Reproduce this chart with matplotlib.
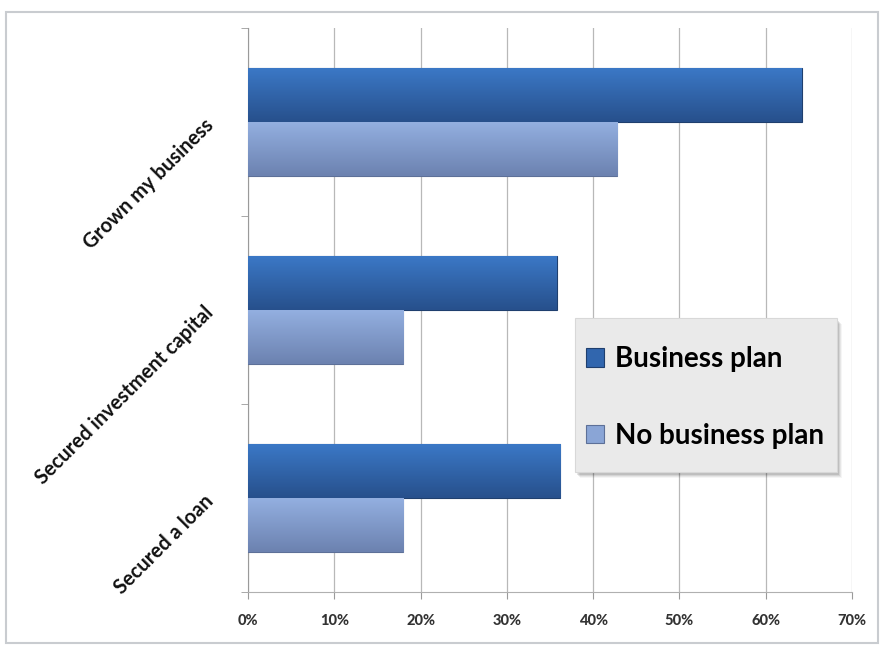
import matplotlib
matplotlib.use("Agg")
import matplotlib.pyplot as plt
import matplotlib.patches as mpatches
import numpy as np

categories = ["Secured a loan", "Secured investment capital", "Grown my business"]
business_plan = [36.2, 35.8, 64.2]
no_business_plan = [18.0, 18.0, 42.8]
x_ticks = [0, 10, 20, 30, 40, 50, 60, 70]

plt.rcParams['font.family'] = ['Lato', 'DejaVu Sans']

W, H = 882, 648
fig = plt.figure(figsize=(8.82, 6.48), dpi=100)
ax = fig.add_axes([0.2812, 0.0864, 0.6848, 0.8704])

# outer frame of the chart
frame = mpatches.Rectangle((6 / W, 1 - 643 / H), 872 / W, 631 / H,
                           transform=fig.transFigure, fill=False,
                           edgecolor='#c9ccd0', linewidth=1.5, zorder=0)
fig.patches.append(frame)

y = np.arange(len(categories))
h = 0.287
bars1 = ax.barh(y + h / 2, business_plan, height=h, color='#3166ae',
                edgecolor='#1f3f6e', linewidth=0.8, label='Business plan', zorder=3)
bars2 = ax.barh(y - h / 2, no_business_plan, height=h, color='#8aa5d6',
                edgecolor='#5d7098', linewidth=0.8, label='No business plan', zorder=3)

# vertical gradient inside each bar
def shade(bars, top, bottom):
    grad = np.linspace(0, 1, 64).reshape(-1, 1)
    c1 = np.array(matplotlib.colors.to_rgb(top))
    c2 = np.array(matplotlib.colors.to_rgb(bottom))
    img = c1[None, None, :] * (1 - grad[..., None]) + c2[None, None, :] * grad[..., None]
    for b in bars:
        x0, y0 = b.get_x(), b.get_y()
        w, hh = b.get_width(), b.get_height()
        im = ax.imshow(img, extent=[x0, x0 + w, y0, y0 + hh], origin='upper',
                       aspect='auto', zorder=3.5)
        im.set_clip_path(b)

shade(bars1, '#3b78c6', '#27508c')
shade(bars2, '#93afe0', '#6c82b0')

ax.set_xlim(0, 70)
ax.set_ylim(-0.5, 2.5)
ax.set_xticks(x_ticks)
ax.set_xticklabels([f"{t}%" for t in x_ticks], fontsize=10.5, fontweight='black', color='#333333')
ax.set_yticks(y)
ax.set_yticklabels(categories, rotation=45, ha='right', va='center',
                   rotation_mode='anchor', fontsize=14.5, fontweight='bold', color='#111111')
ax.set_yticks([-0.5, 0.5, 1.5, 2.5], minor=True)
ax.tick_params(axis='y', which='major', length=0, pad=27)
ax.tick_params(axis='y', which='minor', length=5, color='#9a9a9a', direction='out')
ax.tick_params(axis='x', length=5, color='#9a9a9a', pad=11)

ax.grid(axis='x', color='#b8b8b8', linewidth=0.9, zorder=0)
for s in ['top', 'right']:
    ax.spines[s].set_visible(False)
ax.spines['left'].set_color('#9a9a9a')
ax.spines['bottom'].set_color('#b0b0b0')

# legend box with soft shadow
box = mpatches.Rectangle((575 / W, 1 - 472 / H), 262 / W, 154 / H,
                         transform=fig.transFigure, facecolor='#eaeaea',
                         edgecolor='#d8d8d8', linewidth=0.8, zorder=5)
for k, a in enumerate([0.10, 0.08, 0.06, 0.04]):
    sh = mpatches.Rectangle(((577 + k) / W, 1 - (475 + k) / H), 262 / W, 154 / H,
                            transform=fig.transFigure, facecolor='black',
                            edgecolor='none', alpha=a, zorder=4.9)
    fig.patches.append(sh)
fig.patches.append(box)

leg = fig.legend(loc='upper left', bbox_to_anchor=(586 / W, 1 - 346 / H),
                 bbox_transform=fig.transFigure, borderaxespad=0, borderpad=0,
                 frameon=False, handlelength=0.65, handleheight=0.65,
                 handletextpad=0.4, labelspacing=1.82,
                 prop={'family': ['Lato', 'DejaVu Sans'], 'weight': 'bold', 'size': 20})
leg.set_zorder(6)

fig.savefig("out.png", dpi=100)
